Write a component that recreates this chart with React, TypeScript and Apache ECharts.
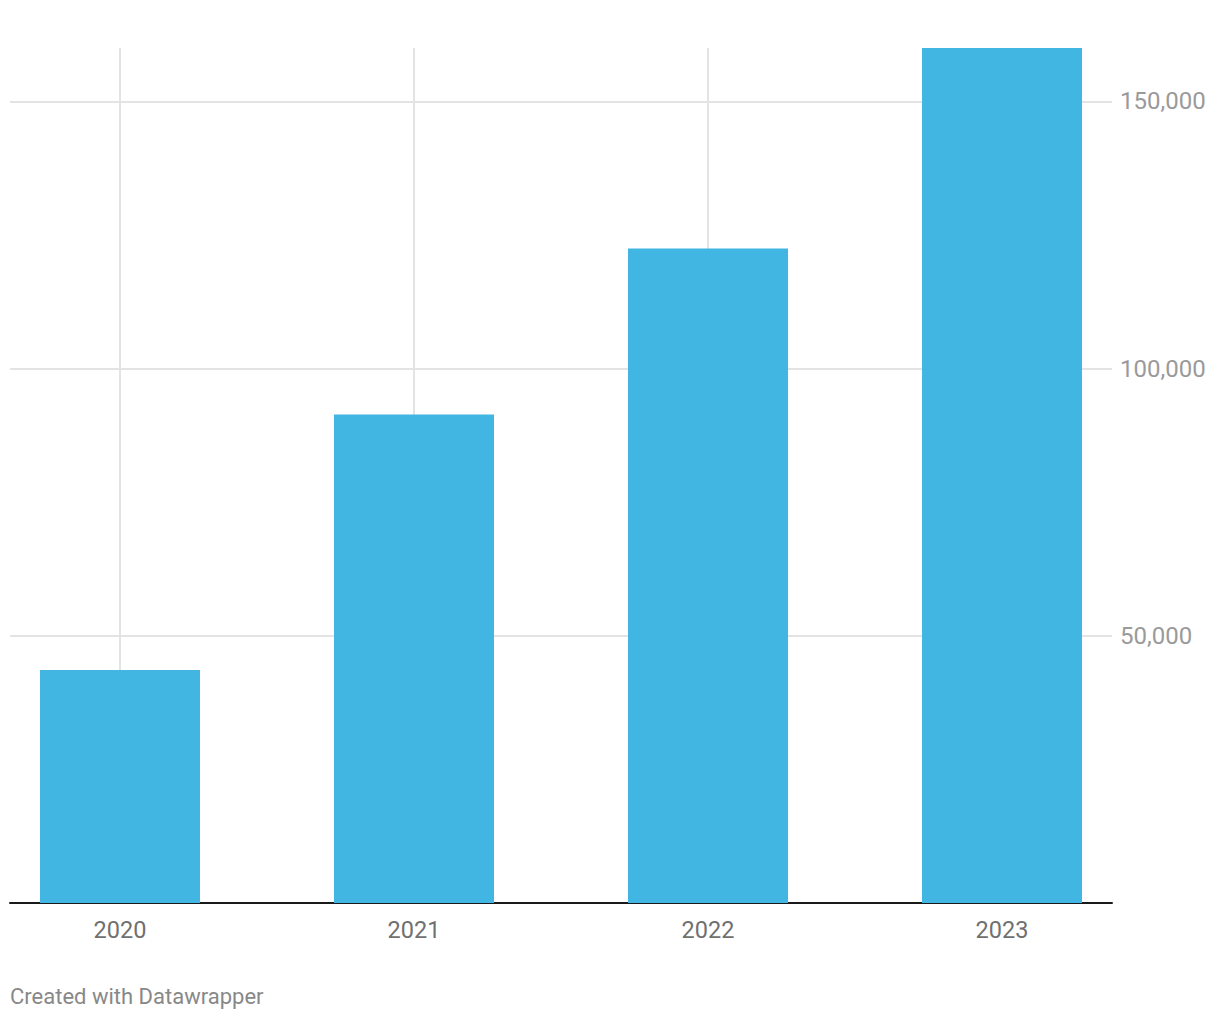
import React, { useEffect, useRef } from "react";
import * as echarts from "echarts";

const categories = ["2020", "2021", "2022", "2023"];
const values = [43600, 91400, 122500, 160000];
const yTicks = [0, 50000, 100000, 150000];
const footer = "Created with Datawrapper";

const FONT = "Roboto";

export default function App() {
  const ref = useRef<HTMLDivElement>(null);
  useEffect(() => {
    if (!ref.current) return;
    const chart = echarts.init(ref.current, null, { renderer: "svg" });
    const yMax = 160000;
    chart.setOption({
      animation: false,
      backgroundColor: "#ffffff",
      textStyle: { fontFamily: FONT },
      grid: [
        { left: 120, width: 882, top: 48, bottom: 117 },
        { left: 10, right: 108, top: 48, bottom: 117 },
      ],
      xAxis: [
        {
          type: "category",
          gridIndex: 0,
          data: categories,
          boundaryGap: false,
          axisLine: { show: false },
          axisTick: { show: false },
          axisLabel: { show: true, color: "#707070", fontSize: 23.5, margin: 15, fontFamily: FONT },
          splitLine: { show: true, lineStyle: { color: "#e3e3e3", width: 2 } },
        },
        {
          type: "value",
          gridIndex: 1,
          min: 0,
          max: 1,
          axisLine: { show: true, onZero: false, lineStyle: { color: "#1a1a1a", width: 2 } },
          axisTick: { show: false },
          axisLabel: { show: false },
          splitLine: { show: false },
        },
      ],
      yAxis: [
        {
          type: "value",
          gridIndex: 0,
          min: 0,
          max: yMax,
          show: false,
          splitLine: { show: false },
        },
        {
          type: "value",
          gridIndex: 1,
          min: 0,
          max: yMax,
          interval: 50000,
          position: "right",
          axisLine: { show: false },
          axisTick: { show: false },
          axisLabel: {
            color: "#9a9a9a",
            fontSize: 24,
            margin: 8,
            fontFamily: FONT,
            showMaxLabel: false,
            formatter: (v: number) => (v === 0 || !yTicks.includes(v) ? "" : v.toLocaleString("en-US")),
          },
          splitLine: { show: true, showMaxLine: false, showMinLine: false, lineStyle: { color: "#e3e3e3", width: 2 } },
        },
      ],
      series: [
        {
          type: "bar",
          xAxisIndex: 0,
          yAxisIndex: 0,
          data: values,
          barWidth: 160,
          clip: false,
          itemStyle: { color: "#41b6e2" },
          z: 3,
        },
      ],
      graphic: [
        {
          type: "text",
          left: 10,
          top: 985,
          style: { text: footer, fill: "#888888", fontSize: 22, fontFamily: FONT },
        },
      ],
    });
    return () => chart.dispose();
  }, []);
  return <div ref={ref} style={{ width: 1220, height: 1020, position: "absolute", left: 0, top: 0 }} />;
}
